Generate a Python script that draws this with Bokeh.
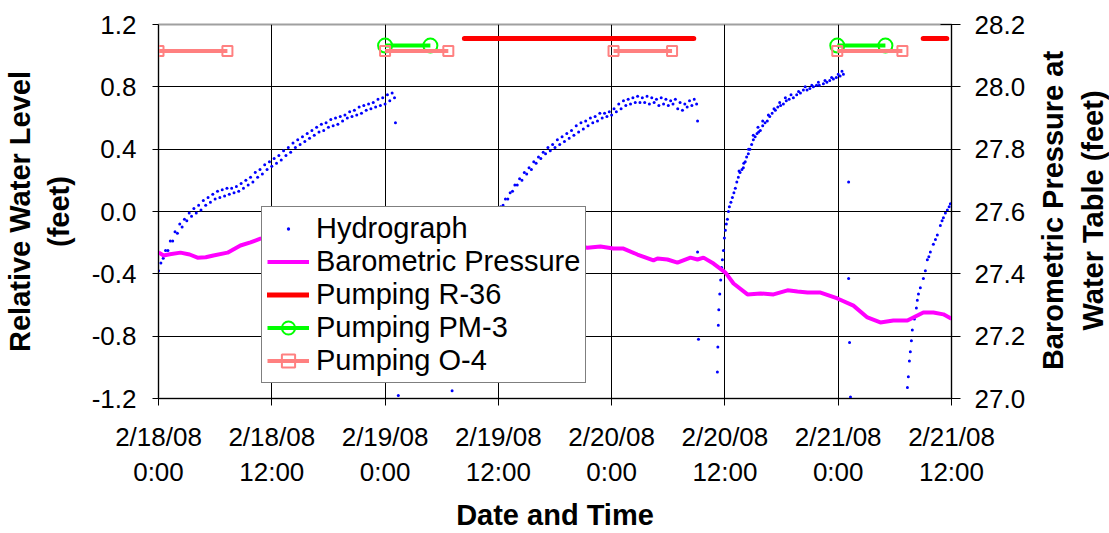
import math
from bokeh.plotting import figure
from bokeh.layouts import row
from bokeh.core.properties import value
from bokeh.models import (Range1d, LinearAxis, FixedTicker, PrintfTickFormatter,
                          Legend, LegendItem, Grid)
from bokeh.embed import file_html
from bokeh.resources import INLINE

# ---------------- data (hours since 2/18/08 0:00) ----------------
# Hydrograph: lower band of readings
hydro_a_hours = [0.0, 0.5, 1.0, 1.5, 2.0, 2.5, 3.0, 3.5, 4.0, 4.5, 5.0, 5.5, 6.0, 6.5, 7.0, 7.5,
                 8.0, 8.5, 9.0, 9.5, 10.0, 10.5, 11.0, 11.5, 12.0, 12.5, 13.0, 13.5, 14.0, 14.5,
                 15.0, 15.5, 16.0, 16.5, 17.0, 17.5, 18.0, 18.5, 19.0, 19.5, 20.0, 20.5, 21.0,
                 21.5, 22.0, 22.5, 23.0, 23.5, 24.0, 24.5, 25.0]
hydro_a_level = [-0.38, -0.30, -0.25, -0.19, -0.14, -0.10, -0.06, -0.03, -0.01, 0.01, 0.04, 0.06,
                 0.08, 0.09, 0.10, 0.11, 0.12, 0.13, 0.15, 0.17, 0.19, 0.22, 0.24, 0.27, 0.29,
                 0.31, 0.33, 0.36, 0.38, 0.41, 0.43, 0.45, 0.47, 0.49, 0.51, 0.52, 0.54, 0.55,
                 0.56, 0.58, 0.60, 0.61, 0.62, 0.63, 0.65, 0.66, 0.67, 0.68, 0.69, 0.71, 0.73]
# Hydrograph: upper band of readings
hydro_b_hours = [0.25, 0.75, 1.25, 1.75, 2.25, 2.75, 3.25, 3.75, 4.25, 4.75, 5.25, 5.75, 6.25,
                 6.75, 7.25, 7.75, 8.25, 8.75, 9.25, 9.75, 10.25, 10.75, 11.25, 11.75, 12.25,
                 12.75, 13.25, 13.75, 14.25, 14.75, 15.25, 15.75, 16.25, 16.75, 17.25, 17.75,
                 18.25, 18.75, 19.25, 19.75, 20.25, 20.75, 21.25, 21.75, 22.25, 22.75, 23.25,
                 23.75, 24.25, 24.75]
hydro_b_level = [-0.33, -0.25, -0.19, -0.13, -0.08, -0.05, -0.01, 0.02, 0.04, 0.07, 0.09, 0.11,
                 0.13, 0.14, 0.15, 0.15, 0.16, 0.18, 0.20, 0.22, 0.25, 0.27, 0.30, 0.32, 0.34,
                 0.36, 0.39, 0.41, 0.44, 0.46, 0.48, 0.50, 0.52, 0.54, 0.56, 0.57, 0.59, 0.60,
                 0.61, 0.62, 0.64, 0.65, 0.67, 0.68, 0.69, 0.70, 0.72, 0.73, 0.75, 0.76]
hydro_c_hours = [35.0, 35.5, 36.0, 36.5, 37.0, 37.5, 38.0, 38.5, 39.0, 39.5, 40.0, 40.5, 41.0,
                 41.5, 42.0, 42.5, 43.0, 43.5, 44.0, 44.5, 45.0, 45.5, 46.0, 46.5, 47.0, 47.5,
                 48.0, 48.5, 49.0, 49.5, 50.0, 50.5, 51.0, 51.5, 52.0, 52.5, 53.0, 53.5, 54.0,
                 54.5, 55.0, 55.5, 56.0, 56.5, 57.0]
hydro_c_level = [-0.14, -0.07, -0.01, 0.04, 0.08, 0.13, 0.17, 0.20, 0.24, 0.27, 0.31, 0.34, 0.37,
                 0.39, 0.41, 0.43, 0.45, 0.47, 0.49, 0.51, 0.53, 0.55, 0.57, 0.58, 0.60, 0.61,
                 0.62, 0.64, 0.66, 0.68, 0.69, 0.70, 0.70, 0.70, 0.69, 0.70, 0.68, 0.69, 0.68,
                 0.69, 0.66, 0.65, 0.67, 0.68, 0.69]
hydro_d_hours = [35.25, 35.75, 36.25, 36.75, 37.25, 37.75, 38.25, 38.75, 39.25, 39.75, 40.25,
                 40.75, 41.25, 41.75, 42.25, 42.75, 43.25, 43.75, 44.25, 44.75, 45.25, 45.75,
                 46.25, 46.75, 47.25, 47.75, 48.25, 48.75, 49.25, 49.75, 50.25, 50.75, 51.25,
                 51.75, 52.25, 52.75, 53.25, 53.75, 54.25, 54.75, 55.25, 55.75, 56.25, 56.75]
hydro_d_level = [-0.09, -0.02, 0.03, 0.08, 0.12, 0.17, 0.21, 0.25, 0.28, 0.32, 0.35, 0.38, 0.41,
                 0.43, 0.46, 0.48, 0.50, 0.52, 0.55, 0.57, 0.58, 0.60, 0.61, 0.63, 0.63, 0.64,
                 0.66, 0.69, 0.71, 0.72, 0.73, 0.74, 0.73, 0.74, 0.73, 0.72, 0.73, 0.72, 0.71,
                 0.72, 0.70, 0.69, 0.71, 0.72]
hydro_e_hours = [59.2, 59.25, 59.3, 59.35, 59.45, 59.55, 59.65, 59.73, 59.84, 59.94, 60.05, 60.15,
                 60.26, 60.37, 60.47, 60.63, 60.79, 60.95, 61.1, 61.26, 61.42, 61.6, 61.8, 61.95,
                 62.15, 62.3, 62.48, 62.65, 62.83, 63.01, 63.2, 63.4, 63.57, 63.75, 64.0, 64.25,
                 64.49, 64.75, 65.0, 65.34, 65.6, 65.9, 66.19, 66.5, 66.8, 67.25, 67.6, 68.0,
                 68.31, 68.7, 69.0, 69.37, 69.7, 70.0, 70.43, 70.8, 71.1, 71.49, 71.8, 72.2, 72.55,
                 61.5, 62.0, 62.5, 63.0, 63.5, 64.0, 64.6, 65.2, 65.8, 66.4, 67.0, 67.8, 68.5,
                 69.2, 69.9, 70.6, 71.3, 72.0, 72.4]
hydro_e_level = [-1.03, -0.87, -0.73, -0.63, -0.53, -0.44, -0.36, -0.31, -0.25, -0.17, -0.12,
                 -0.08, -0.05, 0.0, 0.03, 0.06, 0.09, 0.12, 0.15, 0.19, 0.22, 0.25, 0.27, 0.28,
                 0.32, 0.35, 0.37, 0.40, 0.43, 0.46, 0.48, 0.50, 0.51, 0.52, 0.55, 0.57, 0.58,
                 0.61, 0.63, 0.65, 0.67, 0.68, 0.69, 0.71, 0.72, 0.73, 0.75, 0.76, 0.78, 0.78,
                 0.79, 0.80, 0.81, 0.81, 0.82, 0.83, 0.84, 0.85, 0.86, 0.87, 0.88,
                 0.26, 0.31, 0.40, 0.49, 0.54, 0.58, 0.62, 0.66, 0.70, 0.73, 0.75, 0.77, 0.80,
                 0.81, 0.83, 0.84, 0.86, 0.88, 0.90]
hydro_f_hours = [79.33, 79.43, 79.54, 79.64, 79.75, 79.85, 80.07, 80.28, 80.38, 80.5, 80.7, 81.02,
                 81.23, 81.44, 81.6, 81.76, 82.08, 82.3, 82.5, 82.82, 83.0, 83.14, 83.35, 83.56,
                 83.75, 83.88]
hydro_f_level = [-1.13, -1.06, -0.96, -0.90, -0.83, -0.76, -0.69, -0.62, -0.57, -0.53, -0.49,
                 -0.43, -0.38, -0.31, -0.29, -0.26, -0.21, -0.18, -0.15, -0.09, -0.06, -0.04,
                 -0.01, 0.01, 0.03, 0.05]
# isolated readings
hydro_g_hours = [25.1, 25.4, 31.1, 57.1, 57.1, 57.2, 73.1, 73.1, 73.2, 73.3]
hydro_g_level = [0.57, -1.18, -1.15, 0.58, -0.26, -0.82, 0.19, -0.43, -0.84, -1.19]

baro_hours = [0.0, 0.53, 1.2, 2.33, 3.3, 4.13, 5.0, 5.82, 7.31, 8.68, 9.74, 10.8, 13.0, 16.0,
              20.0, 24.0, 28.0, 32.0, 36.0, 40.0, 43.0, 45.43, 46.81, 48.19, 49.25, 50.73,
              52.43, 52.85, 53.91, 54.97, 56.35, 57.09, 57.73, 58.79, 60.06, 60.91, 62.39,
              63.77, 65.15, 66.63, 67.69, 68.75, 70.13, 71.91, 73.61, 75.09, 76.46, 77.84,
              79.33, 79.96, 81.02, 82.08, 83.14, 84.0]
baro_pressure = [27.469, 27.459, 27.463, 27.468, 27.462, 27.452, 27.453, 27.459, 27.468, 27.491,
                 27.501, 27.513, 27.525, 27.535, 27.545, 27.55, 27.545, 27.535, 27.52, 27.51,
                 27.495, 27.484, 27.488, 27.481, 27.481, 27.462, 27.443, 27.449, 27.446, 27.436,
                 27.452, 27.446, 27.452, 27.433, 27.404, 27.369, 27.334, 27.337, 27.334, 27.347,
                 27.343, 27.340, 27.340, 27.321, 27.298, 27.260, 27.244, 27.250, 27.250, 27.260,
                 27.276, 27.276, 27.270, 27.256]

r36_start = [32.4, 81.0]
r36_end = [56.7, 83.5]
r36_level = 1.11
pm3_start = [24.0, 71.9]
pm3_end = [28.8, 77.0]
pm3_level = 1.065
o4_start = [0.0, 24.0, 48.2, 71.9]
o4_end = [7.3, 30.7, 54.4, 78.8]
o4_level = 1.03

x_tick_hours = [0, 12, 24, 36, 48, 60, 72, 84]
x_tick_dates = ["2/18/08", "2/18/08", "2/19/08", "2/19/08", "2/20/08", "2/20/08", "2/21/08", "2/21/08"]
x_tick_times = ["0:00", "12:00", "0:00", "12:00", "0:00", "12:00", "0:00", "12:00"]
left_ticks = [-1.2, -0.8, -0.4, 0.0, 0.4, 0.8, 1.2]
right_ticks = [27.0, 27.2, 27.4, 27.6, 27.8, 28.0, 28.2]
right_title_lines = ["Barometric Pressure at", "Water Table (feet)"]

# ---------------- main figure ----------------
FONT = "Liberation Sans"
MAIN_W = 1030
p = figure(width=MAIN_W, height=533, output_backend="svg", toolbar_location=None,
           x_range=Range1d(0, 84), y_range=Range1d(-1.2, 1.2),
           x_axis_type=None, y_axis_type=None,
           min_border_left=158, min_border_right=MAIN_W - 951, min_border_top=24,
           min_border_bottom=135)
p.extra_y_ranges = {"baro": Range1d(27.0, 28.2)}
p.background_fill_color = "white"
p.border_fill_color = "white"
p.outline_line_color = "#a0a0a0"
p.outline_line_width = 2

p.add_layout(Grid(dimension=0, ticker=FixedTicker(ticks=x_tick_hours),
                  grid_line_color="black", grid_line_width=1))
p.add_layout(Grid(dimension=1, ticker=FixedTicker(ticks=left_ticks),
                  grid_line_color="black", grid_line_width=1))


def style_axis(ax):
    ax.major_label_text_font = FONT
    ax.major_label_text_font_size = "26px"
    ax.major_label_text_color = "black"
    ax.axis_label_text_font = FONT
    ax.axis_label_text_font_size = "29px"
    ax.axis_label_text_font_style = "bold"
    ax.axis_label_text_color = "black"
    ax.minor_tick_line_color = None
    ax.axis_line_color = "black"
    ax.major_tick_line_color = "black"


xa1 = LinearAxis(ticker=FixedTicker(ticks=x_tick_hours),
                 major_label_overrides={h: d for h, d in zip(x_tick_hours, x_tick_dates)})
style_axis(xa1)
xa1.major_tick_in = 0
xa1.major_tick_out = 7
xa1.major_label_standoff = 16
p.add_layout(xa1, "below")

xa2 = LinearAxis(ticker=FixedTicker(ticks=x_tick_hours), axis_label="Date and Time",
                 major_label_overrides={h: t for h, t in zip(x_tick_hours, x_tick_times)})
style_axis(xa2)
xa2.axis_line_color = None
xa2.major_tick_line_color = None
xa2.major_tick_in = 0
xa2.major_tick_out = 0
xa2.major_label_standoff = 2
xa2.axis_label_standoff = 9
p.add_layout(xa2, "below")

ya1 = LinearAxis(ticker=FixedTicker(ticks=left_ticks), formatter=PrintfTickFormatter(format="%.1f"),
                 axis_label="(feet)")
style_axis(ya1)
ya1.major_tick_in = 0
ya1.major_tick_out = 6
ya1.major_label_standoff = 16
ya1.axis_label_standoff = 14
p.add_layout(ya1, "left")

ya2 = LinearAxis(ticker=FixedTicker(ticks=[]), axis_label="Relative Water Level")
style_axis(ya2)
ya2.axis_line_color = None
ya2.major_tick_line_color = None
ya2.axis_label_standoff = 4
p.add_layout(ya2, "left")

yr1 = LinearAxis(y_range_name="baro", ticker=FixedTicker(ticks=right_ticks),
                 formatter=PrintfTickFormatter(format="%.1f"))
style_axis(yr1)
yr1.major_tick_in = 11
yr1.major_tick_out = 9
yr1.major_label_standoff = 14
p.add_layout(yr1, "right")

# ---------------- glyphs ----------------
BLUE = "#0000ff"
hx = hydro_a_hours + hydro_b_hours + hydro_c_hours + hydro_d_hours + hydro_e_hours + hydro_f_hours + hydro_g_hours
hy = hydro_a_level + hydro_b_level + hydro_c_level + hydro_d_level + hydro_e_level + hydro_f_level + hydro_g_level
r_h = p.scatter(hx, hy, marker="dot", size=12, line_color=BLUE, fill_color=BLUE)

r_b = p.line(baro_hours, baro_pressure, y_range_name="baro", line_color="#ff00ff", line_width=4)


def segs(starts, ends, level):
    xs, ys = [], []
    for s, e in zip(starts, ends):
        xs += [s, e, math.nan]
        ys += [level, level, math.nan]
    return xs, ys


rx, ry = segs(r36_start, r36_end, r36_level)
r_r = p.line(rx, ry, line_color="#ff0000", line_width=5, line_cap="round")

gx, gy = segs(pm3_start, pm3_end, pm3_level)
r_g = p.line(gx, gy, line_color="#00ff00", line_width=4)
r_gm = p.scatter(pm3_start + pm3_end, [pm3_level] * (2 * len(pm3_start)), marker="circle", size=14,
                 fill_color=None, line_color="#00ff00", line_width=2)

ox, oy = segs(o4_start, o4_end, o4_level)
r_o = p.line(ox, oy, line_color="#ff8080", line_width=4)
r_om = p.scatter(o4_start + o4_end, [o4_level] * (2 * len(o4_start)), marker="square", size=10,
                 fill_color=None, line_color="#ff8080", line_width=2)

legend = Legend(items=[
    LegendItem(label="Hydrograph", renderers=[r_h]),
    LegendItem(label="Barometric Pressure", renderers=[r_b]),
    LegendItem(label="Pumping R-36", renderers=[r_r]),
    LegendItem(label="Pumping PM-3", renderers=[r_g, r_gm]),
    LegendItem(label="Pumping O-4", renderers=[r_o, r_om]),
], location=(103, 15))
legend.label_text_font = FONT
legend.label_text_font_size = "29px"
legend.label_text_color = "black"
legend.label_height = 33
legend.glyph_height = 33
legend.glyph_width = 42
legend.label_standoff = 7
legend.spacing = 0
legend.padding = 5
legend.margin = 0
legend.border_line_color = "black"
legend.border_line_width = 1
legend.background_fill_color = "white"
legend.background_fill_alpha = 1.0
p.add_layout(legend)

# ---------------- right-hand title strip (text reads bottom to top) ----------------
# its plot frame is aligned by the row layout with the main frame (374 px high)
SIDE_W = 1109 - MAIN_W
p2 = figure(width=SIDE_W, height=533, output_backend="svg", toolbar_location=None,
            x_range=Range1d(0, SIDE_W), y_range=Range1d(0, 374),
            x_axis_type=None, y_axis_type=None, min_border=0)
p2.outline_line_color = None
p2.background_fill_color = "white"
p2.border_fill_color = "white"
p2.text(x=[22, 62], y=[188, 188], text=right_title_lines, angle=math.pi / 2,
        text_align="center", text_baseline="middle", text_font=value(FONT),
        text_font_size="29px", text_font_style="bold", text_color="black")

layout = row(p, p2, spacing=0)
open("out.html", "w").write(file_html(layout, INLINE))
